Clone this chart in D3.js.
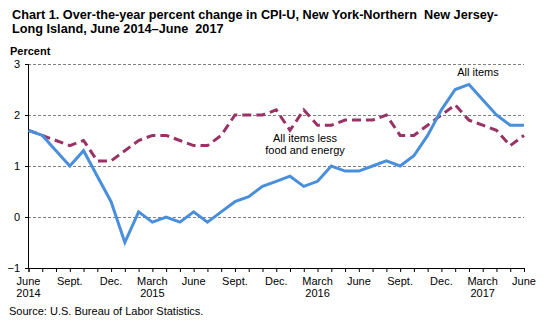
<!DOCTYPE html>
<html>
<head>
<meta charset="utf-8">
<script src="https://cdn.jsdelivr.net/npm/d3@7"></script>
<style>
  body { margin: 0; background: #fff; }
  svg { font-family: "Liberation Sans", Arial, sans-serif; }
  .title { white-space: pre; }
</style>
</head>
<body>
<div id="chart"></div>
<script>
// monthly values, June 2014 - June 2017
const allItems = [1.7, 1.6, 1.3, 1.0, 1.3, 0.8, 0.3, -0.5, 0.1, -0.1, 0.0, -0.1, 0.1,
  -0.1, 0.1, 0.3, 0.4, 0.6, 0.7, 0.8, 0.6, 0.7, 1.0, 0.9, 0.9,
  1.0, 1.1, 1.0, 1.2, 1.6, 2.1, 2.5, 2.6, 2.3, 2.0, 1.8, 1.8];
const coreItems = [1.7, 1.6, 1.5, 1.4, 1.5, 1.1, 1.1, 1.3, 1.5, 1.6, 1.6, 1.5, 1.4,
  1.4, 1.6, 2.0, 2.0, 2.0, 2.1, 1.7, 2.1, 1.8, 1.8, 1.9, 1.9,
  1.9, 2.0, 1.6, 1.6, 1.8, 2.0, 2.2, 1.9, 1.8, 1.7, 1.4, 1.6];
const monthLabels = ["June", "Sept.", "Dec.", "March", "June", "Sept.", "Dec.", "March", "June", "Sept.", "Dec.", "March", "June"];
const yearLabels = ["2014", "", "", "2015", "", "", "", "2016", "", "", "", "2017", ""];
const yTicks = [-1, 0, 1, 2, 3];

const W = 545, H = 323;
const margin = { top: 64, right: 21, bottom: 55, left: 28 };
const width = W - margin.left - margin.right;
const height = H - margin.top - margin.bottom;

const svg = d3.select('#chart').append('svg')
  .attr('width', W).attr('height', H);

svg.append('text').attr('class', 'title').attr('x', 12).attr('y', 19)
  .style('font-size', '12.7px').style('font-weight', 'bold')
  .text('Chart 1. Over-the-year percent change in CPI-U, New York-Northern  New Jersey-');
svg.append('text').attr('class', 'title').attr('x', 12).attr('y', 33)
  .style('font-size', '12.7px').style('font-weight', 'bold')
  .text('Long Island, June 2014\u2013June  2017');
svg.append('text').attr('x', 10).attr('y', 55)
  .style('font-size', '11px').style('font-weight', 'bold')
  .text('Percent');

const g = svg.append('g')
  .attr('transform', `translate(${margin.left}, ${margin.top})`);

const xScale = d3.scaleLinear().domain([0, allItems.length - 1]).range([0.5, width]);
const yScale = d3.scaleLinear().domain([-1, 3]).range([height, 0]);

// gridlines
g.selectAll('line.grid')
  .data(yTicks.filter(d => d > -1))
  .enter().append('line')
  .attr('class', 'grid')
  .attr('x1', 0).attr('x2', width)
  .attr('y1', d => Math.round(yScale(d)) + 0.5)
  .attr('y2', d => Math.round(yScale(d)) + 0.5)
  .attr('stroke', '#808080').attr('stroke-width', 1)
  .attr('stroke-dasharray', '3,2');

// y axis
const yAxis = g.append('g')
  .call(d3.axisLeft(yScale).tickValues(yTicks).tickSize(3).tickPadding(5).tickFormat(d3.format('d')));
yAxis.select('.domain').attr('stroke', '#000');
yAxis.selectAll('text').style('font-size', '11px').attr('fill', '#000');

// x axis
const xAxis = g.append('g')
  .attr('transform', `translate(0, ${height})`)
  .call(d3.axisBottom(xScale).tickValues(d3.range(0, 37)).tickSize(4).tickFormat(''));
xAxis.select('.domain').attr('stroke', '#000');

const xLab = g.append('g').attr('transform', `translate(0, ${height})`);
xLab.selectAll('text.month')
  .data(monthLabels)
  .enter().append('text')
  .attr('x', (d, i) => xScale(i * 3))
  .attr('y', 17)
  .attr('text-anchor', 'middle')
  .style('font-size', '11px')
  .text(d => d);
xLab.selectAll('text.year')
  .data(yearLabels)
  .enter().append('text')
  .attr('x', (d, i) => xScale(i * 3))
  .attr('y', 29)
  .attr('text-anchor', 'middle')
  .style('font-size', '11px')
  .text(d => d);

const line = d3.line()
  .x((d, i) => xScale(i))
  .y(d => yScale(d));

g.append('path')
  .datum(coreItems)
  .attr('fill', 'none')
  .attr('stroke', '#993366')
  .attr('stroke-width', 3)
  .attr('stroke-dasharray', '9,5')
  .attr('d', line);

g.append('path')
  .datum(allItems)
  .attr('fill', 'none')
  .attr('stroke', '#4a8fdb')
  .attr('stroke-width', 3)
  .attr('d', line);

// annotations
svg.append('text').attr('x', 478).attr('y', 76)
  .attr('text-anchor', 'middle').style('font-size', '11px')
  .text('All items');
svg.append('text').attr('x', 305).attr('y', 142)
  .attr('text-anchor', 'middle').style('font-size', '11px')
  .text('All items less');
svg.append('text').attr('x', 305).attr('y', 154)
  .attr('text-anchor', 'middle').style('font-size', '11px')
  .text('food and energy');

svg.append('text').attr('x', 9).attr('y', 315)
  .style('font-size', '11px')
  .text('Source: U.S. Bureau of Labor Statistics.');
</script>
</body>
</html>
